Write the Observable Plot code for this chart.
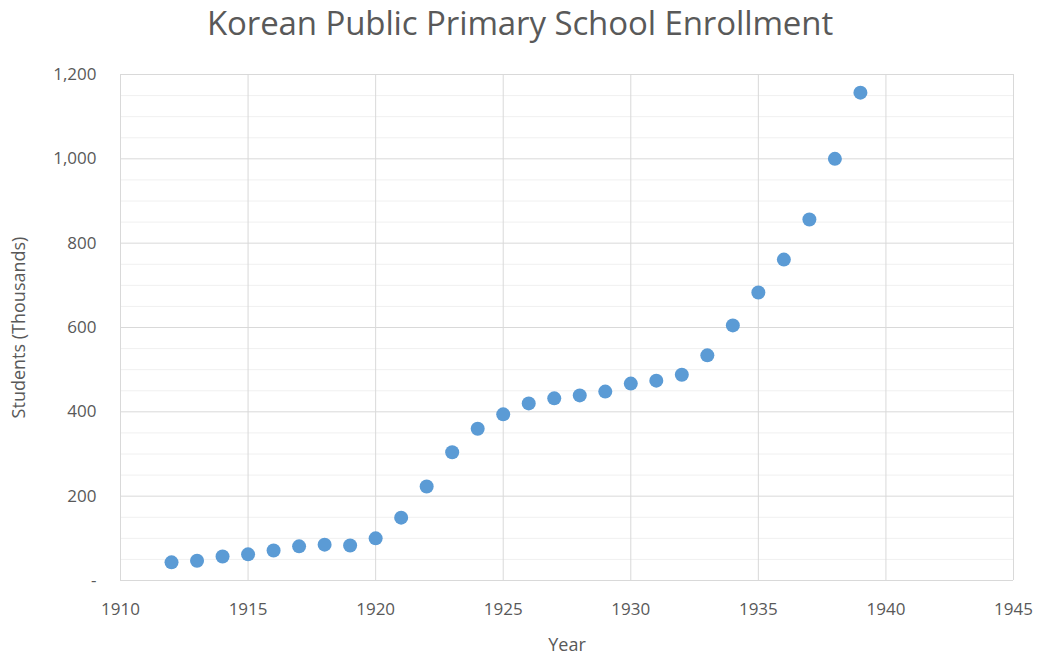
<!DOCTYPE html>
<html>
<head>
<meta charset="utf-8">
<script src="https://cdn.jsdelivr.net/npm/d3@7"></script>
<script src="https://cdn.jsdelivr.net/npm/@observablehq/plot@0.6"></script>
<style>
  html, body { margin: 0; padding: 0; background: #fff; }
  #title { width: 1040px; height: 48px; text-align: center; font-family: "Open Sans", sans-serif; font-size: 33px; color: #595959; line-height: 46px; letter-spacing: -0.1px; }
  svg { display: block; }
</style>
</head>
<body>
<div id="title">Korean Public Primary School Enrollment</div>
<div id="chart"></div>
<script>
const years = [1912,1913,1914,1915,1916,1917,1918,1919,1920,1921,1922,1923,1924,1925,1926,1927,1928,1929,1930,1931,1932,1933,1934,1935,1936,1937,1938,1939];
const students = [43,47,57,62,71,81,85,83,100,149,223,304,360,394,420,432,439,448,467,474,488,534,605,683,761,856,1000,1157];
const xTicks = [1910,1915,1920,1925,1930,1935,1940,1945];
const yTicks = [0,200,400,600,800,1000,1200];
const yMinor = d3.range(0, 1201, 50).filter(v => v % 200 !== 0);

const data = years.map((y, i) => ({year: y, students: students[i]}));
const fmt = d3.format(",");

const chart = Plot.plot({
  width: 1040,
  height: 608,
  marginTop: 26,
  marginBottom: 76,
  marginLeft: 120,
  marginRight: 27,
  style: {fontFamily: "Open Sans, sans-serif", fontSize: "17px", color: "#595959", background: "#fff"},
  x: {domain: [1910, 1945], ticks: xTicks, tickFormat: d => String(d), tickSize: 0, tickPadding: 22, label: "Year", labelArrow: "none", labelAnchor: "center", labelOffset: 70},
  y: {domain: [0, 1200], ticks: yTicks, tickFormat: d => d === 0 ? "-" : fmt(d), tickSize: 0, tickPadding: 24, label: "Students (Thousands)", labelArrow: "none", labelAnchor: "center", labelOffset: 108},
  marks: [
    Plot.ruleY(yMinor, {stroke: "#f0f0f0", strokeWidth: 1}),
    Plot.ruleY(yTicks, {stroke: "#d9d9d9", strokeWidth: 1}),
    Plot.ruleX(xTicks, {stroke: "#d9d9d9", strokeWidth: 1}),
    Plot.dot(data, {x: "year", y: "students", r: 7, fill: "#5B9BD5", stroke: "none"})
  ]
});
chart.querySelectorAll("[aria-label='x-axis label'] text, [aria-label='y-axis label'] text").forEach(t => t.setAttribute("font-size", "18px"));
document.getElementById("chart").appendChild(chart);
</script>
</body>
</html>
